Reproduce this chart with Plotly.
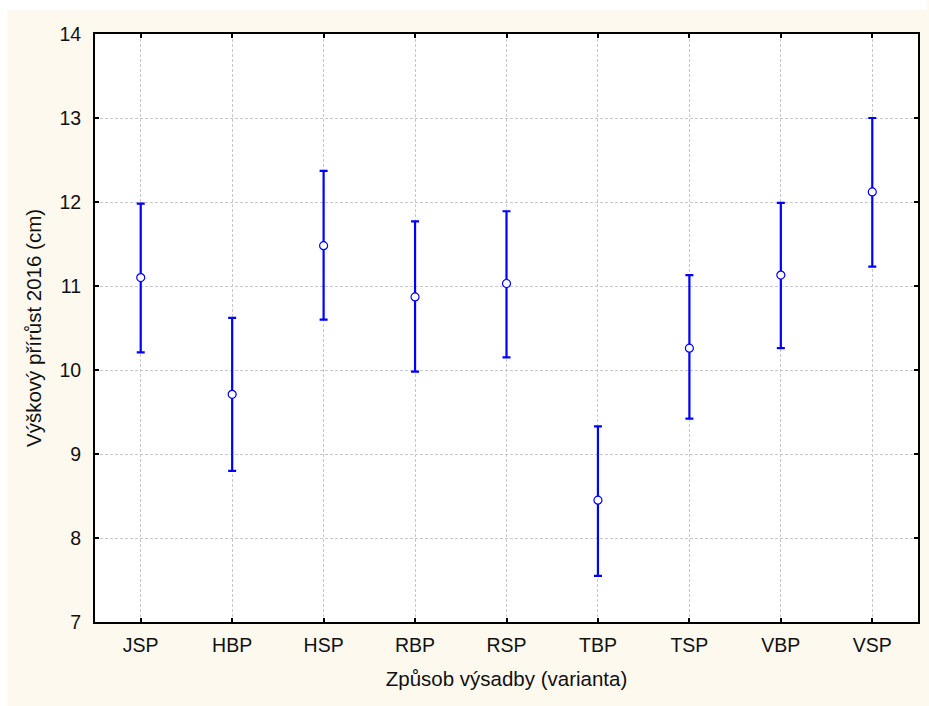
import plotly.graph_objects as go

categories = ["JSP", "HBP", "HSP", "RBP", "RSP", "TBP", "TSP", "VBP", "VSP"]
means = [11.10, 9.71, 11.48, 10.87, 11.03, 8.45, 10.26, 11.13, 12.12]
upper = [11.98, 10.62, 12.37, 11.77, 11.89, 9.33, 11.13, 11.99, 13.00]
lower = [10.21, 8.80, 10.60, 9.98, 10.15, 7.55, 9.42, 10.26, 11.23]

y_ticks = [7, 8, 9, 10, 11, 12, 13, 14]

err_plus = [u - m for u, m in zip(upper, means)]
err_minus = [m - l for m, l in zip(means, lower)]

W, H = 929, 706
ML, MR, MT, MB = 95, 9, 34, 84
CREAM = "#FDF9EF"

fig = go.Figure()
fig.add_trace(go.Scatter(
    x=list(range(len(categories))),
    y=means,
    mode="markers",
    marker=dict(symbol="circle", size=8, color="white",
                line=dict(color="#0000FF", width=1.2)),
    error_y=dict(type="data", symmetric=False, array=err_plus,
                 arrayminus=err_minus, color="#0000FF",
                 thickness=2.2, width=4),
    showlegend=False,
))

font_family = "Liberation Sans, Arial, sans-serif"
tick_font = dict(family=font_family, size=19.5, color="#111111")
title_font = dict(family=font_family, size=20.5, color="#111111")
axis_common = dict(
    showline=True, linecolor="black", linewidth=2, mirror="ticks",
    ticks="inside", ticklen=4, tickwidth=2, tickcolor="black",
    showgrid=True, gridcolor="#C8C8C8", gridwidth=1, griddash="3px,2px",
    zeroline=False,
    tickfont=tick_font,
)

fig.update_xaxes(
    **axis_common,
    tickmode="array", tickvals=list(range(len(categories))), ticktext=categories,
    range=[-0.5, len(categories) - 0.5],
    title=dict(text="Způsob výsadby (varianta)", standoff=16, font=title_font),
    ticklabelstandoff=5,
)
fig.update_yaxes(
    **axis_common,
    tickmode="array", tickvals=y_ticks,
    range=[7, 14],
    title=dict(text="Výškový přírůst 2016 (cm)", standoff=12, font=title_font),
    ticklabelstandoff=8,
)

# white strips at top and left of page (outside the cream panel)
fig.add_shape(type="rect", xref="paper", yref="paper", layer="below",
              x0=-ML / (W - ML - MR), x1=(W - ML) / (W - ML - MR),
              y0=1 + (MT - 10) / (H - MT - MB), y1=1 + MT / (H - MT - MB),
              fillcolor="white", line_width=0)
fig.add_shape(type="rect", xref="paper", yref="paper", layer="below",
              x0=-ML / (W - ML - MR), x1=-(ML - 7) / (W - ML - MR),
              y0=-MB / (H - MT - MB), y1=1 + MT / (H - MT - MB),
              fillcolor="white", line_width=0)

fig.update_layout(
    width=W, height=H,
    margin=dict(l=ML, r=MR, t=MT, b=MB),
    paper_bgcolor=CREAM, plot_bgcolor="white",
    font=dict(family=font_family, size=19, color="#111111"),
)

fig.write_html("out.html")
